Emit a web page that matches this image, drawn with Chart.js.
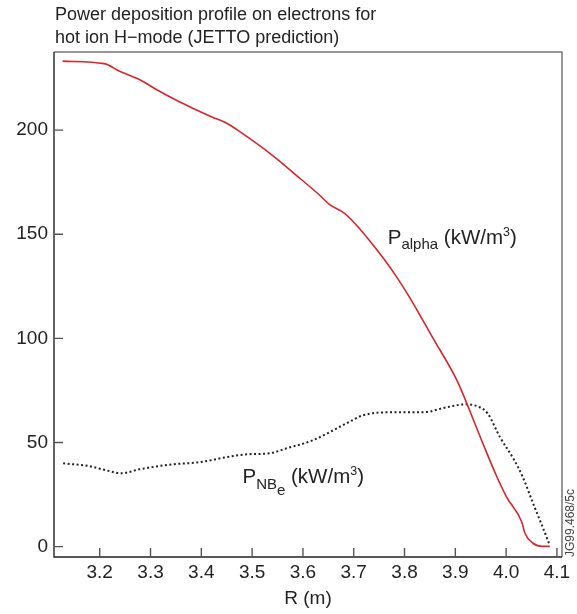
<!DOCTYPE html>
<html>
<head>
<meta charset="utf-8">
<script src="https://cdn.jsdelivr.net/npm/chart.js@4.4.1/dist/chart.umd.min.js"></script>
<style>
	html, body { margin: 0; padding: 0; background: #fff; }
	#chart { display: block; }
</style>
</head>
<body>
<canvas id="chart" width="577" height="614"></canvas>
<script>
// axis ticks
const xTicks = [3.2, 3.3, 3.4, 3.5, 3.6, 3.7, 3.8, 3.9, 4.0, 4.1];
const yTicks = [0, 50, 100, 150, 200];

// alpha heating on electrons (kW/m3) vs R (m)
const alphaR = [3.127, 3.209, 3.239, 3.278, 3.308, 3.351, 3.383, 3.422, 3.450, 3.475, 3.540, 3.587,
	3.633, 3.652, 3.682, 3.706, 3.731, 3.757, 3.785, 3.810, 3.856, 3.903, 3.928, 3.954, 3.982,
	4.001, 4.031, 4.037, 4.053, 4.072, 4.086];
const alphaP = [233.1, 231.9, 228.3, 224.3, 220.0, 214.3, 210.5, 206.2, 203.3, 199.4, 187.9, 178.3,
	168.7, 164.3, 160.0, 154.2, 147.0, 138.9, 129.3, 119.7, 100.1, 79.9, 65.5, 49.7, 33.4,
	23.8, 11.7, 6.4, 1.6, 0.1, 0.1];

// NB heating on electrons (kW/m3) vs R (m)
const nbR = [3.128, 3.180, 3.213, 3.243, 3.278, 3.343, 3.396, 3.449, 3.489, 3.534, 3.568, 3.619,
	3.686, 3.718, 3.771, 3.836, 3.883, 3.919, 3.948, 3.964, 3.988, 4.014, 4.033, 4.053, 4.072, 4.086];
const nbP = [40.0, 38.6, 36.6, 35.2, 37.1, 39.5, 40.5, 42.9, 44.3, 44.8, 47.2, 51.0,
	59.2, 63.0, 64.5, 64.5, 66.9, 68.3, 66.9, 63.8, 52.5, 42.4, 33.3, 20.8, 9.3, 0.6];

const FONT = "'Liberation Sans', Arial, Helvetica, sans-serif";
Chart.defaults.font.family = FONT;
Chart.defaults.color = '#222';

function toPoints(xs, ys) {
	return xs.map((x, i) => ({ x: x, y: ys[i] }));
}

// text with sub/superscripts, parts = [text, size, dy]
function drawParts(ctx, x, y, parts) {
	parts.forEach(p => {
		ctx.font = p[1] + 'px ' + FONT;
		ctx.fillText(p[0], x, y + p[2]);
		x += ctx.measureText(p[0]).width;
	});
}

const frame = {
	id: 'frame',
	beforeDatasetsDraw(chart) {
		const ctx = chart.ctx;
		const a = chart.chartArea;
		const xs = chart.scales.x, ys = chart.scales.y;
		ctx.save();
		// top and right border
		ctx.strokeStyle = '#777';
		ctx.lineWidth = 1.5;
		ctx.beginPath();
		ctx.moveTo(a.left, a.top);
		ctx.lineTo(a.right, a.top);
		ctx.lineTo(a.right, a.bottom);
		ctx.stroke();
		// axes
		ctx.strokeStyle = '#222';
		ctx.lineWidth = 1.4;
		ctx.beginPath();
		ctx.moveTo(a.left, a.top);
		ctx.lineTo(a.left, a.bottom);
		ctx.lineTo(a.right, a.bottom);
		ctx.stroke();
		// inward ticks
		ctx.strokeStyle = '#555';
		ctx.lineWidth = 1.4;
		ctx.beginPath();
		xTicks.forEach(v => {
			const px = xs.getPixelForValue(v);
			ctx.moveTo(px, a.bottom);
			ctx.lineTo(px, a.bottom - 9);
		});
		yTicks.forEach(v => {
			const py = ys.getPixelForValue(v);
			ctx.moveTo(a.left, py);
			ctx.lineTo(a.left + 9, py);
		});
		ctx.stroke();
		ctx.restore();
	},
	afterDraw(chart) {
		const ctx = chart.ctx;
		const xs = chart.scales.x, ys = chart.scales.y;
		ctx.save();
		ctx.fillStyle = '#222';
		ctx.textBaseline = 'alphabetic';
		ctx.textAlign = 'left';

		// title
		ctx.font = '18px ' + FONT;
		ctx.fillText('Power deposition profile on electrons for', 55, 20);
		ctx.fillText('hot ion H\u2212mode (JETTO prediction)', 55, 43);

		// curve labels
		drawParts(ctx, xs.getPixelForValue(3.767), ys.getPixelForValue(145.1), [
			['P', 20.5, 0], ['alpha', 15, 5], [' (kW/m', 20.5, 0], ['3', 12.5, -8], [')', 20.5, 0]
		]);
		drawParts(ctx, xs.getPixelForValue(3.481), ys.getPixelForValue(30.4), [
			['P', 20.5, 0], ['NB', 15, 6], ['e', 15, 12], [' (kW/m', 20.5, 0], ['3', 12.5, -8], [')', 20.5, 0]
		]);

		// figure reference, running upwards along the right edge
		ctx.translate(571, 557);
		ctx.rotate(-Math.PI / 2);
		ctx.font = '12px ' + FONT;
		ctx.fillStyle = '#444';
		ctx.textBaseline = 'middle';
		ctx.fillText('JG99.468/5c', 0, 0);
		ctx.restore();
	}
};

const config = {
	type: 'scatter',
	data: {
		datasets: [{
			label: 'P alpha',
			data: toPoints(alphaR, alphaP),
			showLine: true,
			borderColor: '#d7262b',
			borderWidth: 1.6,
			pointRadius: 0,
			cubicInterpolationMode: 'monotone'
		}, {
			label: 'P NBe',
			data: toPoints(nbR, nbP),
			showLine: true,
			borderColor: '#222',
			borderWidth: 2,
			borderDash: [2, 2.5],
			pointRadius: 0,
			cubicInterpolationMode: 'monotone'
		}]
	},
	options: {
		responsive: false,
		animation: false,
		devicePixelRatio: 1,
		layout: { padding: { top: 52, right: 15, left: 0, bottom: 0 } },
		plugins: {
			legend: { display: false },
			tooltip: { enabled: false },
			title: { display: false }
		},
		scales: {
			x: {
				type: 'linear',
				min: 3.11,
				max: 4.11,
				afterBuildTicks: s => { s.ticks = xTicks.map(v => ({ value: v })); },
				afterFit: s => { s.height = 57; },
				ticks: {
					callback: v => v.toFixed(1),
					font: { size: 19 },
					color: '#222',
					padding: 4,
					maxRotation: 0
				},
				grid: { display: false, drawTicks: false },
				border: { display: false },
				title: {
					display: true,
					text: 'R (m)',
					font: { size: 19 },
					color: '#222',
					padding: { top: 0, bottom: 4 }
				}
			},
			y: {
				type: 'linear',
				min: -5,
				max: 237.5,
				afterBuildTicks: s => { s.ticks = yTicks.map(v => ({ value: v })); },
				afterFit: s => { s.width = 54; },
				ticks: {
					font: { size: 19 },
					color: '#222',
					padding: 6
				},
				grid: { display: false, drawTicks: false },
				border: { display: false }
			}
		}
	},
	plugins: [frame]
};

const myChart = new Chart(document.getElementById('chart'), config);
</script>
</body>
</html>
